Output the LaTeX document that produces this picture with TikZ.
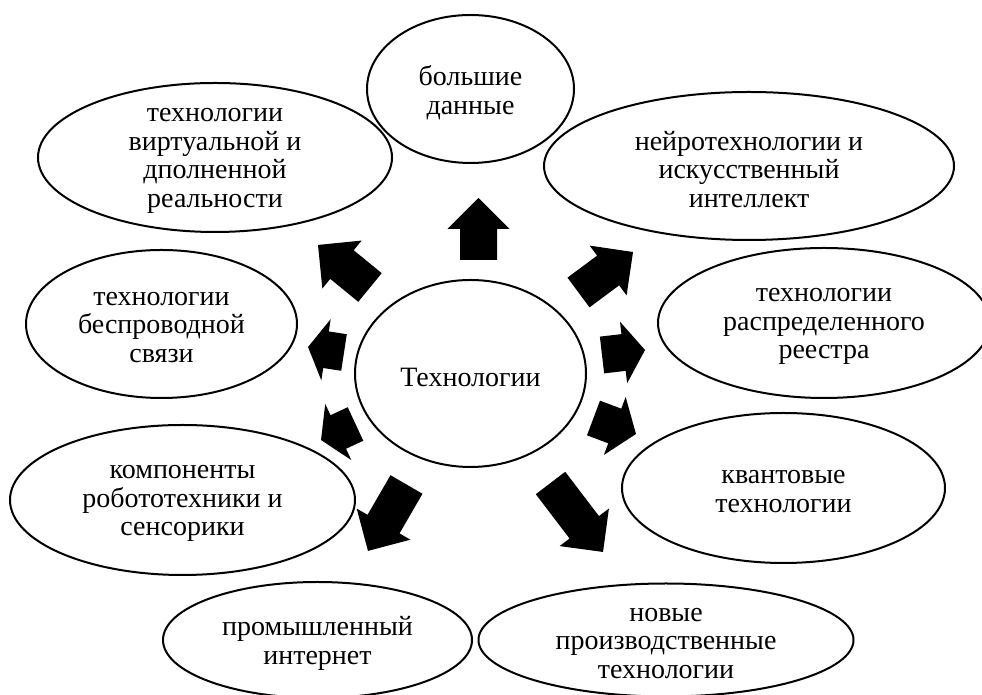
\documentclass[tikz,border=0pt]{standalone}
\usepackage{fontspec}
\setmainfont{Liberation Serif}
\usetikzlibrary{shapes.geometric}
\newcommand\blockarr[5]{%
  \begin{scope}[shift={(#1,#2)},rotate=#3]
    \fill[black] (0,-18.5) -- ({#4-#5},-18.5) -- ({#4-#5},-31) -- (#4,0)
      -- ({#4-#5},31) -- ({#4-#5},18.5) -- (0,18.5) -- cycle;
  \end{scope}}
\begin{document}
\begin{tikzpicture}[x=1pt,y=1pt,
  bub/.style={draw=black, ellipse, line width=2pt, inner sep=0pt, fill=white},
  txt/.style={align=center, inner sep=0pt, yshift=-3.5pt, font=\fontsize{28}{28.5}\selectfont}]
\useasboundingbox (0,0) rectangle (982,695);
\fill[white] (0,0) rectangle (982,695);

\node[bub, minimum width=207, minimum height=148] (bd) at (470.5,606) {};
\node[txt] (bdt) at (bd) {большие\\данные};

\node[bub, minimum width=354, minimum height=149] (vr) at (215,537.5) {};
\node[txt] (vrt) at (vr) {технологии\\виртуальной и\\дполненной\\реальности};

\node[bub, minimum width=410, minimum height=148] (ai) at (749,529) {};
\node[txt] (ait) at (ai) {нейротехнологии и\\искусственный\\интеллект};

\node[bub, minimum width=332, minimum height=150] (dl) at (824,372) {};
\node[txt] (dlt) at (dl) {технологии\\распределенного\\реестра};

\node[bub, minimum width=323, minimum height=150] (qt) at (783.5,207) {};
\node[txt] (qtt) at (qt) {квантовые\\технологии};

\node[bub, minimum width=375, minimum height=113] (np) at (666,55) {};
\node[txt] (npt) at (np) {новые\\производственные\\технологии};

\node[bub, minimum width=309, minimum height=116] (ii) at (317.5,55) {};
\node[txt] (iit) at (ii) {промышленный\\интернет};

\node[bub, minimum width=345, minimum height=150] (rs) at (182.5,195) {};
\node[txt] (rst) at (rs) {компоненты\\робототехники и\\сенсорики};

\node[bub, minimum width=271, minimum height=148] (wl) at (161.5,371) {};
\node[txt] (wlt) at (wl) {технологии\\беспроводной\\связи};

\node[bub, minimum width=231, minimum height=187] (c) at (470.5,321.5) {};
\node[txt] (ct) at (c) {Технологии};

\blockarr{478.5}{435}{90}{62}{31}
\blockarr{370}{407.5}{140.7}{67.2}{31}
\blockarr{344}{342.5}{171.3}{36.4}{18.2}
\blockarr{355.5}{271}{204.9}{38}{19}
\blockarr{406.5}{210.5}{239.9}{76.8}{31}
\blockarr{550.5}{212}{307.3}{86.7}{31}
\blockarr{593.5}{277}{-20.6}{45.4}{22.7}
\blockarr{602}{340}{6.6}{43.3}{21.6}
\blockarr{578.5}{402.5}{36.6}{67.9}{31}
\end{tikzpicture}
\end{document}
